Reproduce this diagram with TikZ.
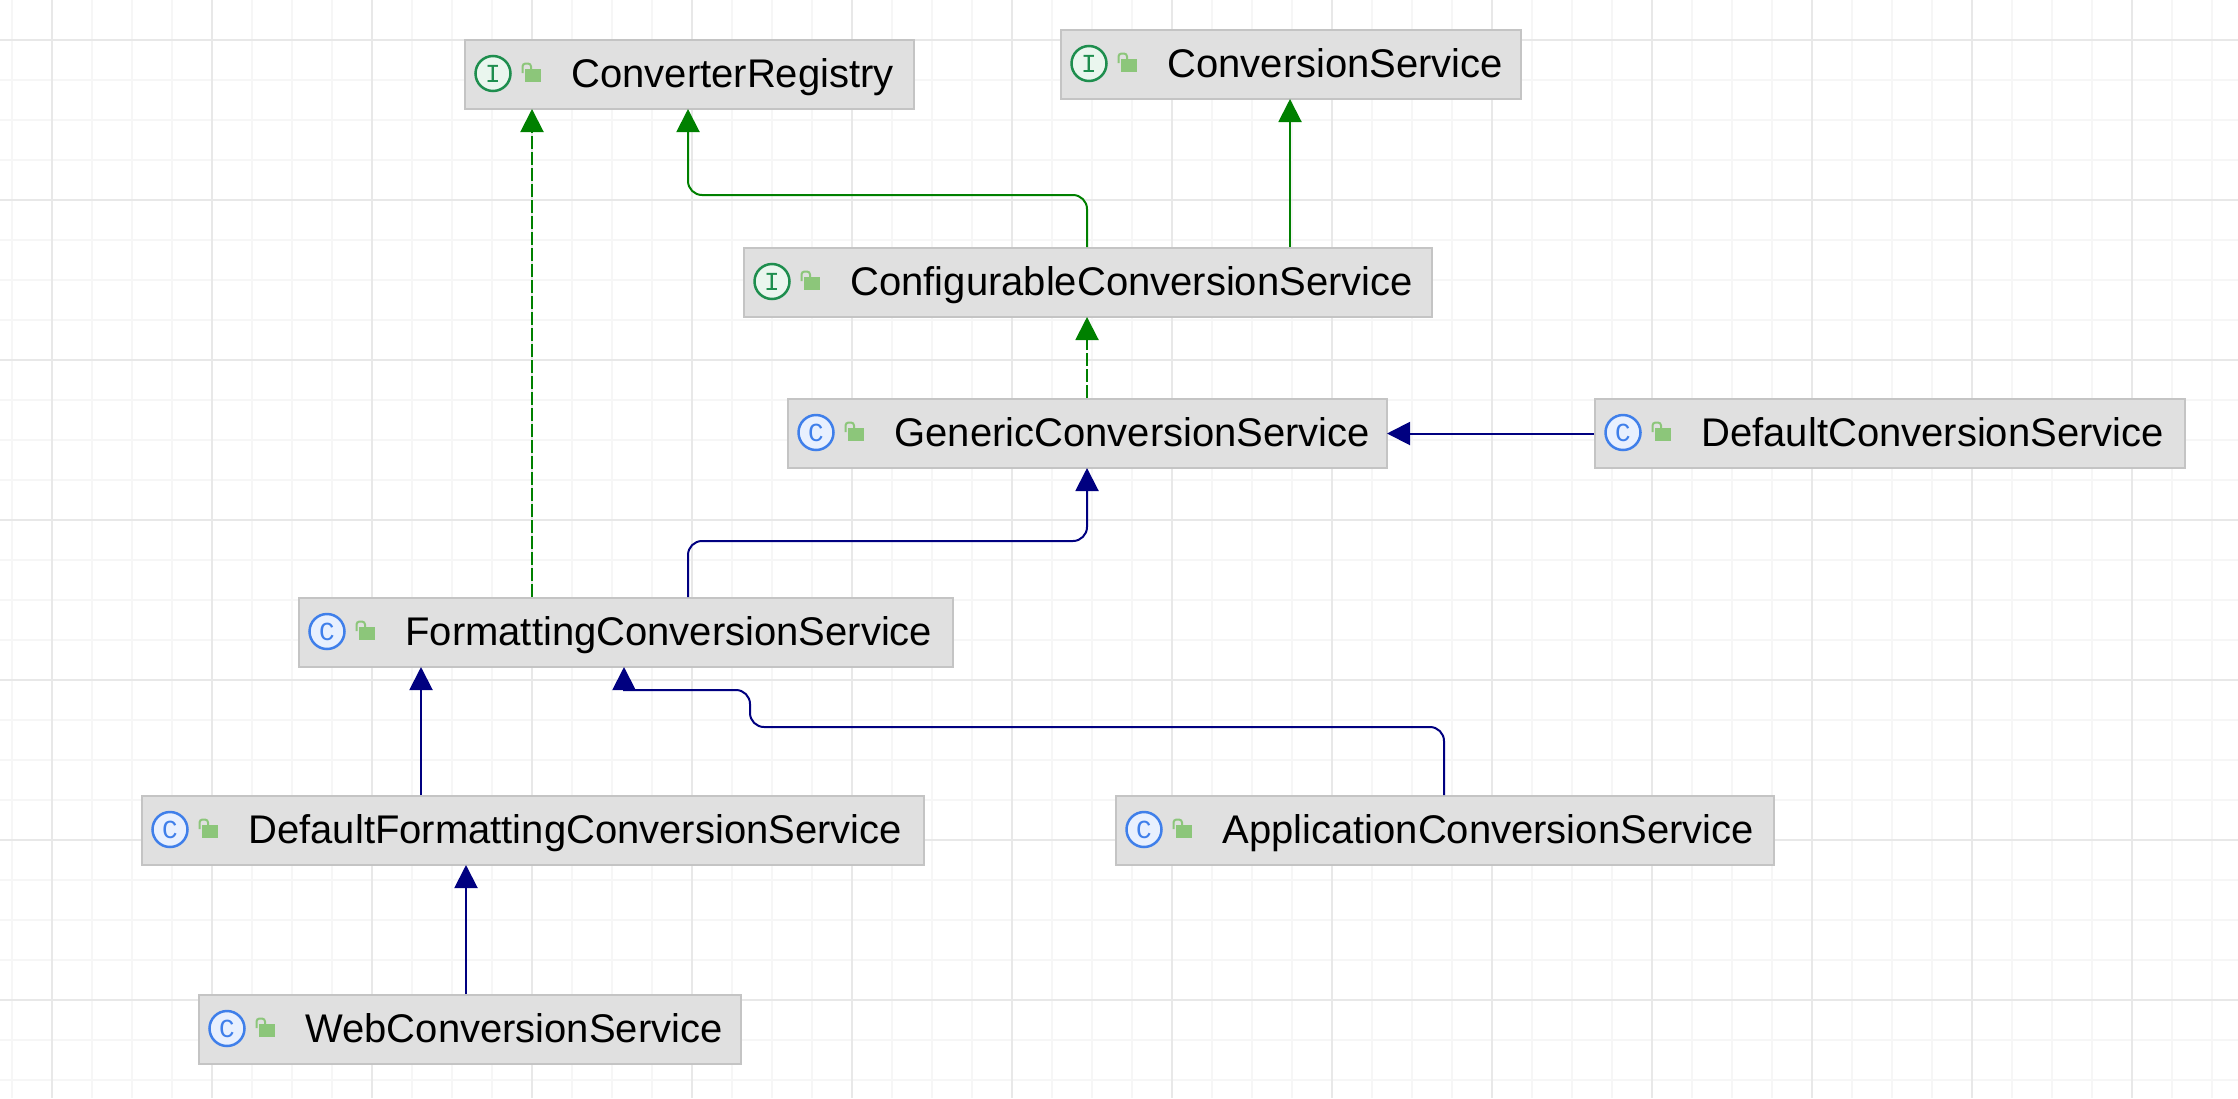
\documentclass[tikz,border=0pt]{standalone}
\usepackage{fontspec}
\setmainfont{Liberation Sans}
\newfontfamily\iconfont{Liberation Mono}
\usetikzlibrary{arrows.meta,backgrounds}
\definecolor{gridminor}{HTML}{F6F6F6}
\definecolor{gridmajor}{HTML}{E8E8E8}
\definecolor{boxfill}{HTML}{E0E0E0}
\definecolor{boxline}{HTML}{C4C4C4}
\definecolor{ifacegreen}{HTML}{1E8E4E}
\definecolor{ifacefill}{HTML}{EAF6EE}
\definecolor{classblue}{HTML}{3F7FEA}
\definecolor{classfill}{HTML}{E8F0FE}
\definecolor{lockgreen}{HTML}{8CC67A}
\definecolor{implgreen}{HTML}{008000}
\definecolor{extnavy}{HTML}{000080}
\tikzset{
  umlbox/.style={draw=boxline,fill=boxfill,line width=1pt,anchor=north west,inner sep=0pt},
  umllabel/.style={anchor=base west,inner sep=0pt,font=\fontsize{20}{20}\selectfont},
  iconI/.style={circle,draw=ifacegreen,fill=ifacefill,text=ifacegreen,line width=1.25pt,minimum size=17.5pt,inner sep=0pt,font=\iconfont\fontsize{13}{13}\selectfont},
  iconC/.style={circle,draw=classblue,fill=classfill,text=classblue,line width=1.25pt,minimum size=17.5pt,inner sep=0pt,font=\iconfont\fontsize{13}{13}\selectfont},
  implsolid/.style={draw=implgreen,line width=1pt,rounded corners=7pt,shorten >=-0.5pt,-{Triangle[length=11.5pt,width=11.5pt]},implgreen},
  impldash/.style={implsolid,dash pattern=on 6.5pt off 1.5pt},
  extsolid/.style={draw=extnavy,line width=1pt,rounded corners=7pt,shorten >=-0.5pt,-{Triangle[length=11.5pt,width=11.5pt]},extnavy}
}
\begin{document}
\begin{tikzpicture}[x=0.5pt,y=-0.5pt]% one unit is one pixel of the reference, y runs down
\useasboundingbox (0,0) rectangle (2238,1098);
\fill[white] (0,0) rectangle (2238,1098);
\foreach \xi in {12,52,...,2232}{ %minor grid
\draw[gridminor,line width=0.75pt] (\xi,0) -- (\xi,1098);
}
\foreach \yi in {40,80,...,1090}{
\draw[gridminor,line width=0.75pt] (0,\yi) -- (2238,\yi);
}
\foreach \xi in {52,212,...,2232}{ %major grid
\draw[gridmajor,line width=0.75pt] (\xi,0) -- (\xi,1098);
}
\foreach \yi in {40,200,...,1090}{
\draw[gridmajor,line width=0.75pt] (0,\yi) -- (2238,\yi);
}

\foreach \nm/\xa/\ya/\bw/\kind/\txt in {%
reg/464/39/449/I/ConverterRegistry,
conv/1060/29/460/I/ConversionService,
conf/743/247/688/I/ConfigurableConversionService,
gen/787/398/599/C/GenericConversionService,
dflt/1594/398/590/C/DefaultConversionService,
fmt/298/597/654/C/FormattingConversionService,
dfmt/141/795/782/C/DefaultFormattingConversionService,
app/1115/795/658/C/ApplicationConversionService,
web/198/994/542/C/WebConversionService}{
\node[umlbox,minimum width=\bw*0.5pt,minimum height=34.5pt] (\nm) at (\xa,\ya) {};
\node[icon\kind] (\nm-icon) at (\xa+29,\ya+34.5) {\kind};
\node[umllabel] (\nm-label) at (\xa+107,\ya+48) {\txt};
\begin{scope}[shift={(\nm.north west)}] %small open lock
\fill[lockgreen] (61,30) rectangle (77,43);
\draw[lockgreen,line width=1pt,rounded corners=1.5pt] (58.5,34) -- (58.5,24.5) -- (67,24.5) -- (67,30);
\end{scope}
}

\coordinate (regdash) at (532,0);
\coordinate (regbend) at (688,195);
\coordinate (confx) at (1087,0);
\coordinate (convx) at (1290,0);
\coordinate (genbend) at (1087,541);
\coordinate (fmtx) at (421,0);
\coordinate (webx) at (466,0);
\coordinate (appa) at (1444,727);
\coordinate (appb) at (750,727);
\coordinate (appc) at (750,690);
\coordinate (appd) at (624,690);

\draw[impldash] (fmt.north -| regdash) -- (reg.south -| regdash);
\draw[implsolid] (conf.north -| confx) -- (regbend -| confx) -- (regbend) -- (reg.south -| regbend);
\draw[implsolid] (conf.north -| convx) -- (conv.south -| convx);
\draw[impldash] (gen.north -| confx) -- (conf.south -| confx);
\draw[extsolid] (dflt.west) -- (gen.east);
\draw[extsolid] (fmt.north -| regbend) -- (genbend -| regbend) -- (genbend) -- (gen.south -| genbend);
\draw[extsolid] (dfmt.north -| fmtx) -- (fmt.south -| fmtx);
\draw[extsolid] (web.north -| webx) -- (dfmt.south -| webx);
\draw[extsolid] (app.north -| appa) -- (appa) -- (appb) -- (appc) [sharp corners] -- (appd) -- (fmt.south -| appd);
\end{tikzpicture}
\end{document}
